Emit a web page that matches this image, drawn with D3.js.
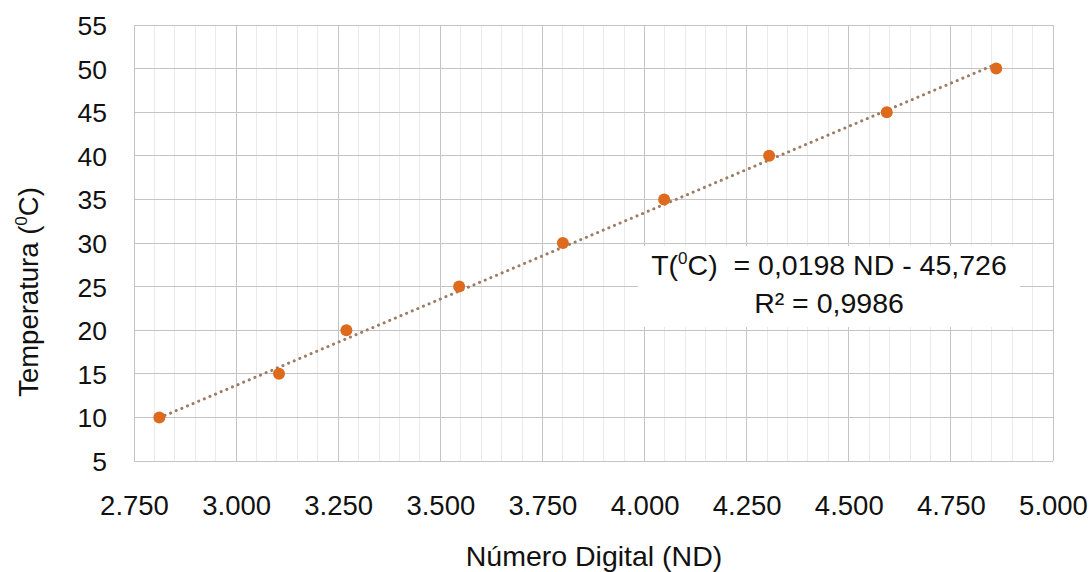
<!DOCTYPE html>
<html>
<head>
<meta charset="utf-8">
<script src="https://cdn.jsdelivr.net/npm/d3@7"></script>
<style>
  html, body { margin: 0; padding: 0; background: #fff; }
  svg { display: block; font-family: "Liberation Sans", Arial, sans-serif; }
</style>
</head>
<body>
<svg id="chart" width="1091" height="572"></svg>
<script>
// ---- data ----
const numeroDigital = [2812, 3105, 3270, 3546, 3800, 4048, 4305, 4593, 4861];
const temperatura   = [10, 15, 20, 25, 30, 35, 40, 45, 50];
const xTicks = [2750, 3000, 3250, 3500, 3750, 4000, 4250, 4500, 4750, 5000];
const yTicks = [5, 10, 15, 20, 25, 30, 35, 40, 45, 50, 55];
const trendSlope = 0.0198;
const trendIntercept = -45.726;
const eqLine1 = ["T(", "0", "C)  = 0,0198 ND - 45,726"];
const eqLine2 = "R² = 0,9986";
const xTitle = "Número Digital (ND)";
const yTitle = ["Temperatura (", "0", "C)"];

// ---- layout ----
const svg = d3.select("#chart");
const L = 134, R = 1053, T = 25, B = 461;
const x = d3.scaleLinear().domain([2750, 5000]).range([L, R]);
const y = d3.scaleLinear().domain([5, 55]).range([B, T]);
const ink = "#111";

const fmtX = v => d3.format(",.3f")(v / 1000).replace(",", "");

// minor vertical gridlines every 50
const minor = d3.range(2750, 5001, 50).filter(v => v % 250 !== 0);
svg.append("g").selectAll("line").data(minor).join("line")
  .attr("x1", d => x(d)).attr("x2", d => x(d))
  .attr("y1", T).attr("y2", B)
  .attr("stroke", "#eaeaea").attr("stroke-width", 1).attr("shape-rendering", "crispEdges");

// major gridlines
svg.append("g").selectAll("line").data(xTicks).join("line")
  .attr("x1", d => x(d)).attr("x2", d => x(d))
  .attr("y1", T).attr("y2", B)
  .attr("stroke", "#c4c4c4").attr("stroke-width", 1).attr("shape-rendering", "crispEdges");
svg.append("g").selectAll("line").data(yTicks).join("line")
  .attr("x1", L).attr("x2", R)
  .attr("y1", d => y(d)).attr("y2", d => y(d))
  .attr("stroke", "#c4c4c4").attr("stroke-width", 1).attr("shape-rendering", "crispEdges");

// axes (labels only)
const xAxis = svg.append("g").attr("transform", `translate(0,${B})`)
  .call(d3.axisBottom(x).tickValues(xTicks).tickFormat(fmtX).tickSize(0).tickPadding(0));
xAxis.select(".domain").remove();
xAxis.selectAll("text").attr("y", 54).attr("dy", 0)
  .attr("font-size", 27.5).attr("fill", ink).attr("font-family", "Liberation Sans, Arial, sans-serif");

const yAxis = svg.append("g").attr("transform", `translate(${L},0)`)
  .call(d3.axisLeft(y).tickValues(yTicks).tickFormat(d3.format("d")).tickSize(0).tickPadding(0));
yAxis.select(".domain").remove();
yAxis.selectAll("text").attr("x", -27).attr("dy", "0.36em")
  .attr("font-size", 26.5).attr("fill", ink).attr("font-family", "Liberation Sans, Arial, sans-serif");

// trendline
const xMin = d3.min(numeroDigital), xMax = d3.max(numeroDigital);
svg.append("line")
  .attr("x1", x(xMin)).attr("y1", y(trendSlope * xMin + trendIntercept))
  .attr("x2", x(xMax)).attr("y2", y(trendSlope * xMax + trendIntercept))
  .attr("stroke", "#9c7c64").attr("stroke-width", 3)
  .attr("stroke-linecap", "round").attr("stroke-dasharray", "0.1 6");

// equation box
const bx = 638, by = 246, bw = 382, bh = 81;
svg.append("rect").attr("x", bx).attr("y", by).attr("width", bw).attr("height", bh).attr("fill", "#fff");
const eq = svg.append("text").attr("x", 829).attr("y", 275).attr("text-anchor", "middle")
  .attr("font-size", 28.5).attr("fill", ink).style("white-space", "pre");
eq.append("tspan").text(eqLine1[0]);
eq.append("tspan").text(eqLine1[1]).attr("font-size", 17).attr("dy", -11);
eq.append("tspan").text(eqLine1[2]).attr("dy", 11);
svg.append("text").attr("x", 829).attr("y", 313).attr("text-anchor", "middle")
  .attr("font-size", 28.5).attr("fill", ink).text(eqLine2);

// points
svg.append("g").selectAll("circle").data(numeroDigital).join("circle")
  .attr("cx", d => x(d)).attr("cy", (d, i) => y(temperatura[i]))
  .attr("r", 6).attr("fill", "#dd6a1d");

// axis titles
svg.append("text").attr("x", 594).attr("y", 566).attr("text-anchor", "middle")
  .attr("font-size", 28.5).attr("fill", ink).text(xTitle);
const yt = svg.append("text").attr("transform", "translate(38,292) rotate(-90)")
  .attr("text-anchor", "middle").attr("font-size", 27.5).attr("fill", ink);
yt.append("tspan").text(yTitle[0]);
yt.append("tspan").text(yTitle[1]).attr("font-size", 17).attr("dy", -11);
yt.append("tspan").text(yTitle[2]).attr("dy", 11);
</script>
</body>
</html>
